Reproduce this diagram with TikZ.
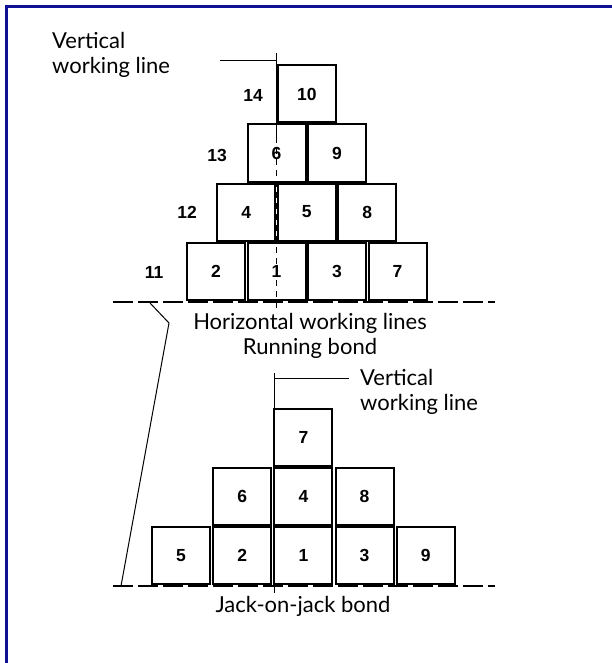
\documentclass[tikz,border=0pt]{standalone}
\usepackage{fontspec}
\setmainfont{Lato}
\newfontfamily\numfont{Liberation Sans}
\definecolor{frameblue}{RGB}{16,16,150}
\begin{document}
\begin{tikzpicture}[x=1pt,y=-1pt,
  brick/.style={draw, line width=2pt, minimum width=58pt, minimum height=57pt, inner sep=0pt,
    font=\numfont\bfseries\fontsize{17.5}{17.5}\selectfont},
  rowlabel/.style={font=\numfont\bfseries\fontsize{17.5}{17.5}\selectfont, inner sep=0pt},
  caption/.style={font=\fontsize{22}{24.5}\selectfont, inner sep=0pt},
  workline/.style={line width=1.6pt, dash pattern=on 20pt off 5pt},
  vline/.style={line width=1.7pt},
  lead/.style={line width=1pt}]
\useasboundingbox (0,0) rectangle (612,663);
\fill[white] (0,0) rectangle (612,663);
\draw[frameblue, line width=3pt] (6.5,663) -- (6.5,6.5) -- (612,6.5);

% ---------- Running bond ----------
\node[brick] (r7)  at (397.5,271.5) {7};
\node[brick] (r3)  at (337,271.5) {3};
\node[brick] (r1)  at (276.5,271.5) {1};
\node[brick] (r2)  at (216,271.5) {2};
\node[brick] (r4)  at (246.25,212) {4};
\node[brick] (r5)  at (306.75,212) {5};
\node[brick] (r8)  at (367.25,212) {8};
\node[brick] (r6)  at (276.5,153) {6};
\node[brick] (r9)  at (337,153) {9};
\node[brick] (r10) at (306.75,94) {10};

\node[rowlabel] (l11) at (154,272) {11};
\node[rowlabel] (l12) at (187,212) {12};
\node[rowlabel] (l13) at (217,155) {13};
\node[rowlabel] (l14) at (253,95) {14};

\coordinate (hA1) at (113,302);
\coordinate (hA2) at (495,302);
\draw[workline] (hA1) -- (hA2);

\coordinate (vA0) at (276.5,53);
\coordinate (vA1) at (276.5,137);
\coordinate (vA2) at (276.5,312);
\draw[vline] (vA0) -- (vA1);
\draw[vline, dash pattern=on 6pt off 5pt] (vA1) -- (vA2);

\coordinate (leadA1) at (220,61);
\coordinate (leadA2) at (276.5,61);
\draw[lead] (leadA1) -- (leadA2);
\node[caption, anchor=west, align=left] (vlabA) at (52,55) {Vertical\\working line};

\node[caption, align=center] (capA) at (310,336) {Horizontal working lines\\Running bond};

% ---------- Jack-on-jack bond ----------
\node[brick] (j5) at (181,555.5) {5};
\node[brick] (j2) at (242.2,555.5) {2};
\node[brick] (j1) at (303.4,555.5) {1};
\node[brick] (j3) at (364.6,555.5) {3};
\node[brick] (j9) at (425.8,555.5) {9};
\node[brick] (j6) at (242.2,496) {6};
\node[brick] (j4) at (303.4,496) {4};
\node[brick] (j8) at (364.6,496) {8};
\node[brick] (j7) at (303.4,437) {7};

\coordinate (hB1) at (113,586);
\coordinate (hB2) at (495,586);
\draw[workline] (hB1) -- (hB2);

\coordinate (vB0) at (274.4,373);
\coordinate (vB1) at (274.4,593);
\draw[vline] (vB0) -- (vB1);

\coordinate (leadB1) at (274.4,378);
\coordinate (leadB2) at (349,378);
\draw[lead] (leadB1) -- (leadB2);
\node[caption, anchor=west, align=left] (vlabB) at (360,392) {Vertical\\working line};

\node[caption] (capB) at (303,606) {Jack-on-jack bond};

% ---------- leader between the horizontal working lines ----------
\coordinate (s1) at (150,303);
\coordinate (s2) at (169,323);
\coordinate (s3) at (121,586);
\draw[lead] (s1) -- (s2) -- (s3);
\end{tikzpicture}
\end{document}
